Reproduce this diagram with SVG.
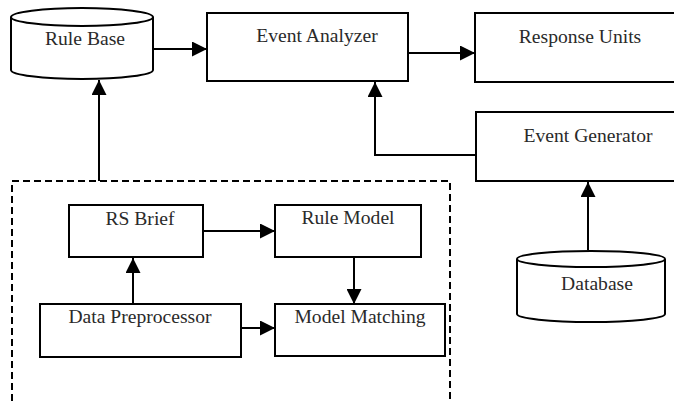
<svg xmlns="http://www.w3.org/2000/svg" width="674" height="401" viewBox="0 0 674 401">
  <defs>
    <marker id="arrow" viewBox="0 0 15 15" refX="15" refY="7.5" markerWidth="15" markerHeight="15" markerUnits="userSpaceOnUse" orient="auto">
      <path d="M0,0 L15,7.5 L0,15 Z" fill="#000"/>
    </marker>
  </defs>
  <style>
    .box { fill: #fff; stroke: #000; stroke-width: 2; }
    .cyl { fill: #fff; stroke: #000; stroke-width: 2; }
    .edge { fill: none; stroke: #000; stroke-width: 2; marker-end: url(#arrow); }
    .plain { fill: none; stroke: #000; stroke-width: 2; }
    .dash { fill: none; stroke: #000; stroke-width: 2; stroke-dasharray: 7 4; }
    .lbl { font-size: 19.6px; fill: #2a2a2a; text-anchor: middle; }
  </style>

  <rect width="674" height="401" fill="#fff"/>

  <!-- dashed grouping frame around the analysis components -->
  <g id="frame">
    <path class="dash" d="M12,401 L12,181 L450,181 L450,401"/>
  </g>

  <g font-family="'Liberation Serif', 'DejaVu Serif', serif">
    <g id="rule-base">
      <path class="cyl" d="M11,17 A71,9 0 0 1 153,17 L153,70 A71,9 0 0 1 11,70 Z"/>
      <path class="plain" d="M11,17 A71,9 0 0 0 153,17"/>
      <text class="lbl" x="85" y="45">Rule Base</text>
    </g>

    <g id="event-analyzer">
      <rect class="box" x="207" y="13" width="201" height="68"/>
      <text class="lbl" x="317" y="42">Event Analyzer</text>
    </g>

    <g id="response-units">
      <rect class="box" x="475" y="13" width="210" height="69"/>
      <text class="lbl" x="580" y="43">Response Units</text>
    </g>

    <g id="event-generator">
      <rect class="box" x="476" y="112" width="210" height="69"/>
      <text class="lbl" x="588" y="142">Event Generator</text>
    </g>

    <g id="database">
      <path class="cyl" d="M517,259 A74,8 0 0 1 665,259 L665,314 A74,8 0 0 1 517,314 Z"/>
      <path class="plain" d="M517,259 A74,8 0 0 0 665,259"/>
      <text class="lbl" x="597" y="290">Database</text>
    </g>

    <g id="rs-brief">
      <rect class="box" x="69" y="205" width="134" height="52"/>
      <text class="lbl" x="140" y="225">RS Brief</text>
    </g>

    <g id="rule-model">
      <rect class="box" x="275" y="205" width="146" height="52"/>
      <text class="lbl" x="348" y="224">Rule Model</text>
    </g>

    <g id="data-preprocessor">
      <rect class="box" x="40" y="304" width="201" height="53"/>
      <text class="lbl" x="140" y="323">Data Preprocessor</text>
    </g>

    <g id="model-matching">
      <rect class="box" x="275" y="304" width="170" height="52"/>
      <text class="lbl" x="360" y="323">Model Matching</text>
    </g>
  </g>

  <g id="connectors">
    <path class="edge" d="M153,49 L207,49"/>
    <path class="edge" d="M408,53 L475,53"/>
    <path class="edge" d="M476,155 L375,155 L375,82"/>
    <path class="edge" d="M588,250 L588,182"/>
    <path class="edge" d="M99,181 L99,80"/>
    <path class="edge" d="M133,304 L133,258"/>
    <path class="edge" d="M203,231 L275,231"/>
    <path class="edge" d="M354,257 L354,304"/>
    <path class="edge" d="M241,328 L275,328"/>
  </g>
</svg>
